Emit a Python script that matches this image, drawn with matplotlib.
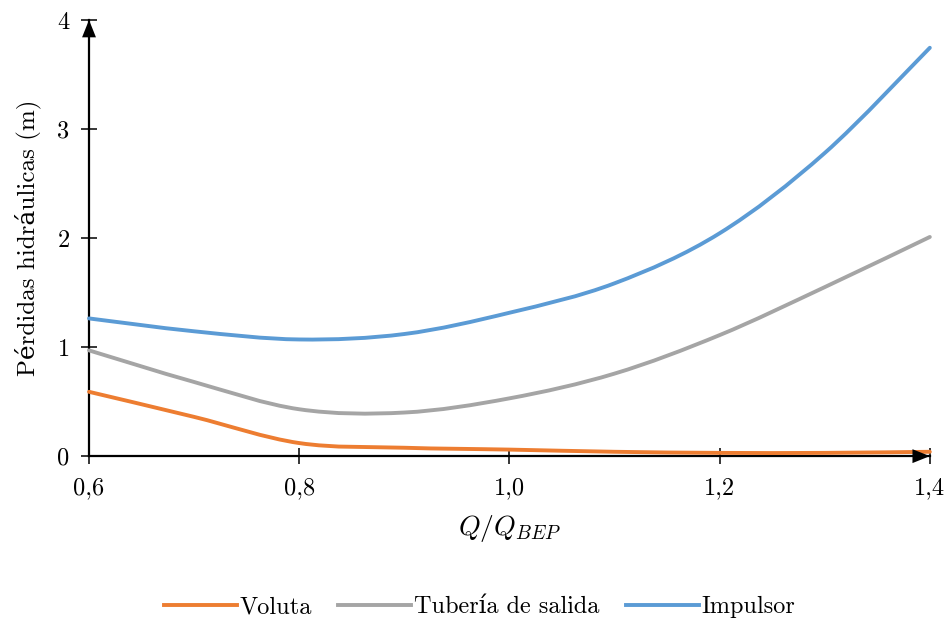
import matplotlib
matplotlib.use("Agg")
import matplotlib.pyplot as plt
from matplotlib.path import Path
from matplotlib.patches import PathPatch
from matplotlib.lines import Line2D

# fuentes tipo LaTeX (Computer Modern), con respaldo para acentos
plt.rcParams['font.family'] = ['cmr10', 'DejaVu Serif']
plt.rcParams['mathtext.fontset'] = 'cm'
plt.rcParams['axes.unicode_minus'] = False

# datos
q = [0.6, 0.7, 0.8, 0.9, 1.0, 1.1, 1.2, 1.3, 1.4]
voluta = [0.59, 0.36, 0.12, 0.077, 0.06, 0.04, 0.03, 0.03, 0.04]
tuberia = [0.97, 0.68, 0.43, 0.40, 0.53, 0.757, 1.11, 1.55, 2.01]
impulsor = [1.263, 1.145, 1.07, 1.12, 1.315, 1.585, 2.044, 2.78, 3.745]

series = [('Voluta', voluta, '#ED7D31'),
          ('Tubería de salida', tuberia, '#A5A5A5'),
          ('Impulsor', impulsor, '#5B9BD5')]

xticks = [0.6, 0.8, 1.0, 1.2, 1.4]
xticklabels = ['0,6', '0,8', '1,0', '1,2', '1,4']
yticks = [0, 1, 2, 3, 4]


# linea suavizada tipo Excel (Bezier que pasa por todos los puntos)
def smooth_path(xs, ys):
    pts = list(zip(xs, ys))
    verts = [pts[0]]
    codes = [Path.MOVETO]
    n = len(pts)
    for i in range(n - 1):
        p0 = pts[i - 1] if i > 0 else pts[i]
        p1 = pts[i]
        p2 = pts[i + 1]
        p3 = pts[i + 2] if i + 2 < n else pts[i + 1]
        c1 = (p1[0] + (p2[0] - p0[0]) / 6.0, p1[1] + (p2[1] - p0[1]) / 6.0)
        c2 = (p2[0] - (p3[0] - p1[0]) / 6.0, p2[1] - (p3[1] - p1[1]) / 6.0)
        verts += [c1, c2, p2]
        codes += [Path.CURVE4] * 3
    return Path(verts, codes)


fig = plt.figure(figsize=(9.49, 6.24), dpi=100, facecolor='white')
ax = fig.add_axes([0.0938, 0.269, 0.886, 0.699])

handles = []
for name, vals, col in series:
    patch = PathPatch(smooth_path(q, vals), fill=False, edgecolor=col, lw=2.8,
                      capstyle='round', joinstyle='round', clip_on=False, zorder=3)
    ax.add_patch(patch)
    handles.append(Line2D([], [], color=col, lw=2.8, label=name))

ax.set_xlim(0.6, 1.4)
ax.set_ylim(0, 4)
ax.set_xticks(xticks)
ax.set_xticklabels(xticklabels)
ax.set_yticks(yticks)

for s in ['top', 'right']:
    ax.spines[s].set_visible(False)
for s in ['left', 'bottom']:
    ax.spines[s].set_linewidth(1.6)
    ax.spines[s].set_color('black')

ax.tick_params(axis='both', direction='inout', length=12, width=1.1,
               labelsize=17.5, colors='black')
ax.tick_params(axis='y', pad=8)
ax.tick_params(axis='x', pad=9)

# flechas en los ejes
arrow = dict(arrowstyle='-|>,head_length=1.25,head_width=0.5',
             color='black', lw=0, shrinkA=0, shrinkB=0)
ax.annotate('', xy=(0, 1), xytext=(0, 0.9), xycoords='axes fraction',
            arrowprops=arrow)
ax.annotate('', xy=(1, 0), xytext=(0.95, 0), xycoords='axes fraction',
            arrowprops=arrow)

ax.set_xlabel(r'$Q/Q_{BEP}$', fontsize=20, labelpad=10)
ax.set_ylabel('Pérdidas hidráulicas (m)', fontsize=18, labelpad=12)

fig.legend(handles=handles, loc='center', bbox_to_anchor=(0.505, 0.027), ncol=3,
           frameon=False, fontsize=17.5, handlelength=3.0, handletextpad=0.1,
           columnspacing=1.1)

fig.savefig('out.png', dpi=100, facecolor='white')
